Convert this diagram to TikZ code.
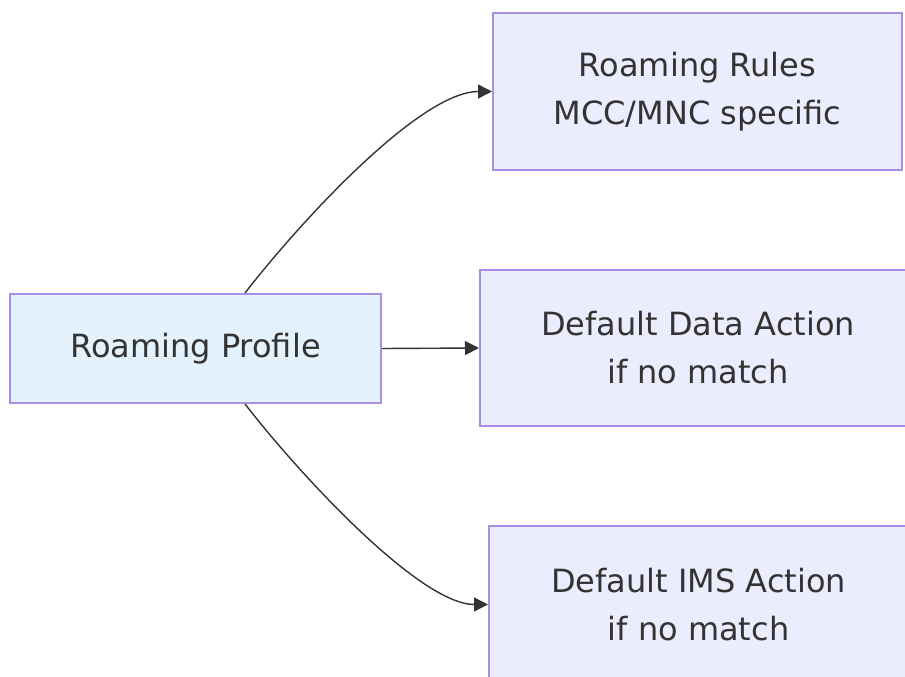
\documentclass[tikz,border=0pt]{standalone}
\usepackage{fontspec}
\setmainfont{DejaVu Sans}
\usepackage{tikz}
\usetikzlibrary{arrows.meta, positioning}
\definecolor{mytext}{HTML}{333333}
\definecolor{myborder}{HTML}{A98EE3}
\definecolor{myfill}{HTML}{ECECFF}
\definecolor{myprofile}{HTML}{E3F2FD}
\tikzset{
  box/.style={draw=myborder,line width=2pt,fill=myfill,text=mytext,align=center,
    font=\fontsize{32}{48}\selectfont,inner sep=0pt},
  box profile/.style={box,fill=myprofile},
  link/.style={-{Triangle[length=14pt,width=14pt]},draw=mytext,line width=1.4pt}
}

\begin{document}
\begin{tikzpicture}[x=1pt,y=-1pt]
\useasboundingbox (0,0) rectangle (905,677);

% Source node
\node[box profile,minimum width=371pt,minimum height=109pt] (prof) at (195.5,348.5) {Roaming Profile};

% -------- Targets --------
\node[box,minimum width=409pt,minimum height=157pt] (rules) at (697.5,91.5) {Roaming Rules\\MCC/MNC specific};
\node[box,minimum width=436pt,minimum height=156pt] (data) at (698,348) {Default Data Action\\if no match};
\node[box,minimum width=419pt,minimum height=157pt] (ims) at (698.5,604.5) {Default IMS Action\\if no match};

% Connections
\draw[link] ([xshift=49.5pt]prof.north) .. controls (300,222) and (420,91.5) .. (rules.west);
\draw[link] (prof.east) -- (data.west);
\draw[link] ([xshift=49.5pt]prof.south) .. controls (300,475) and (420,604.5) .. (ims.west);

\end{tikzpicture}
\end{document}
